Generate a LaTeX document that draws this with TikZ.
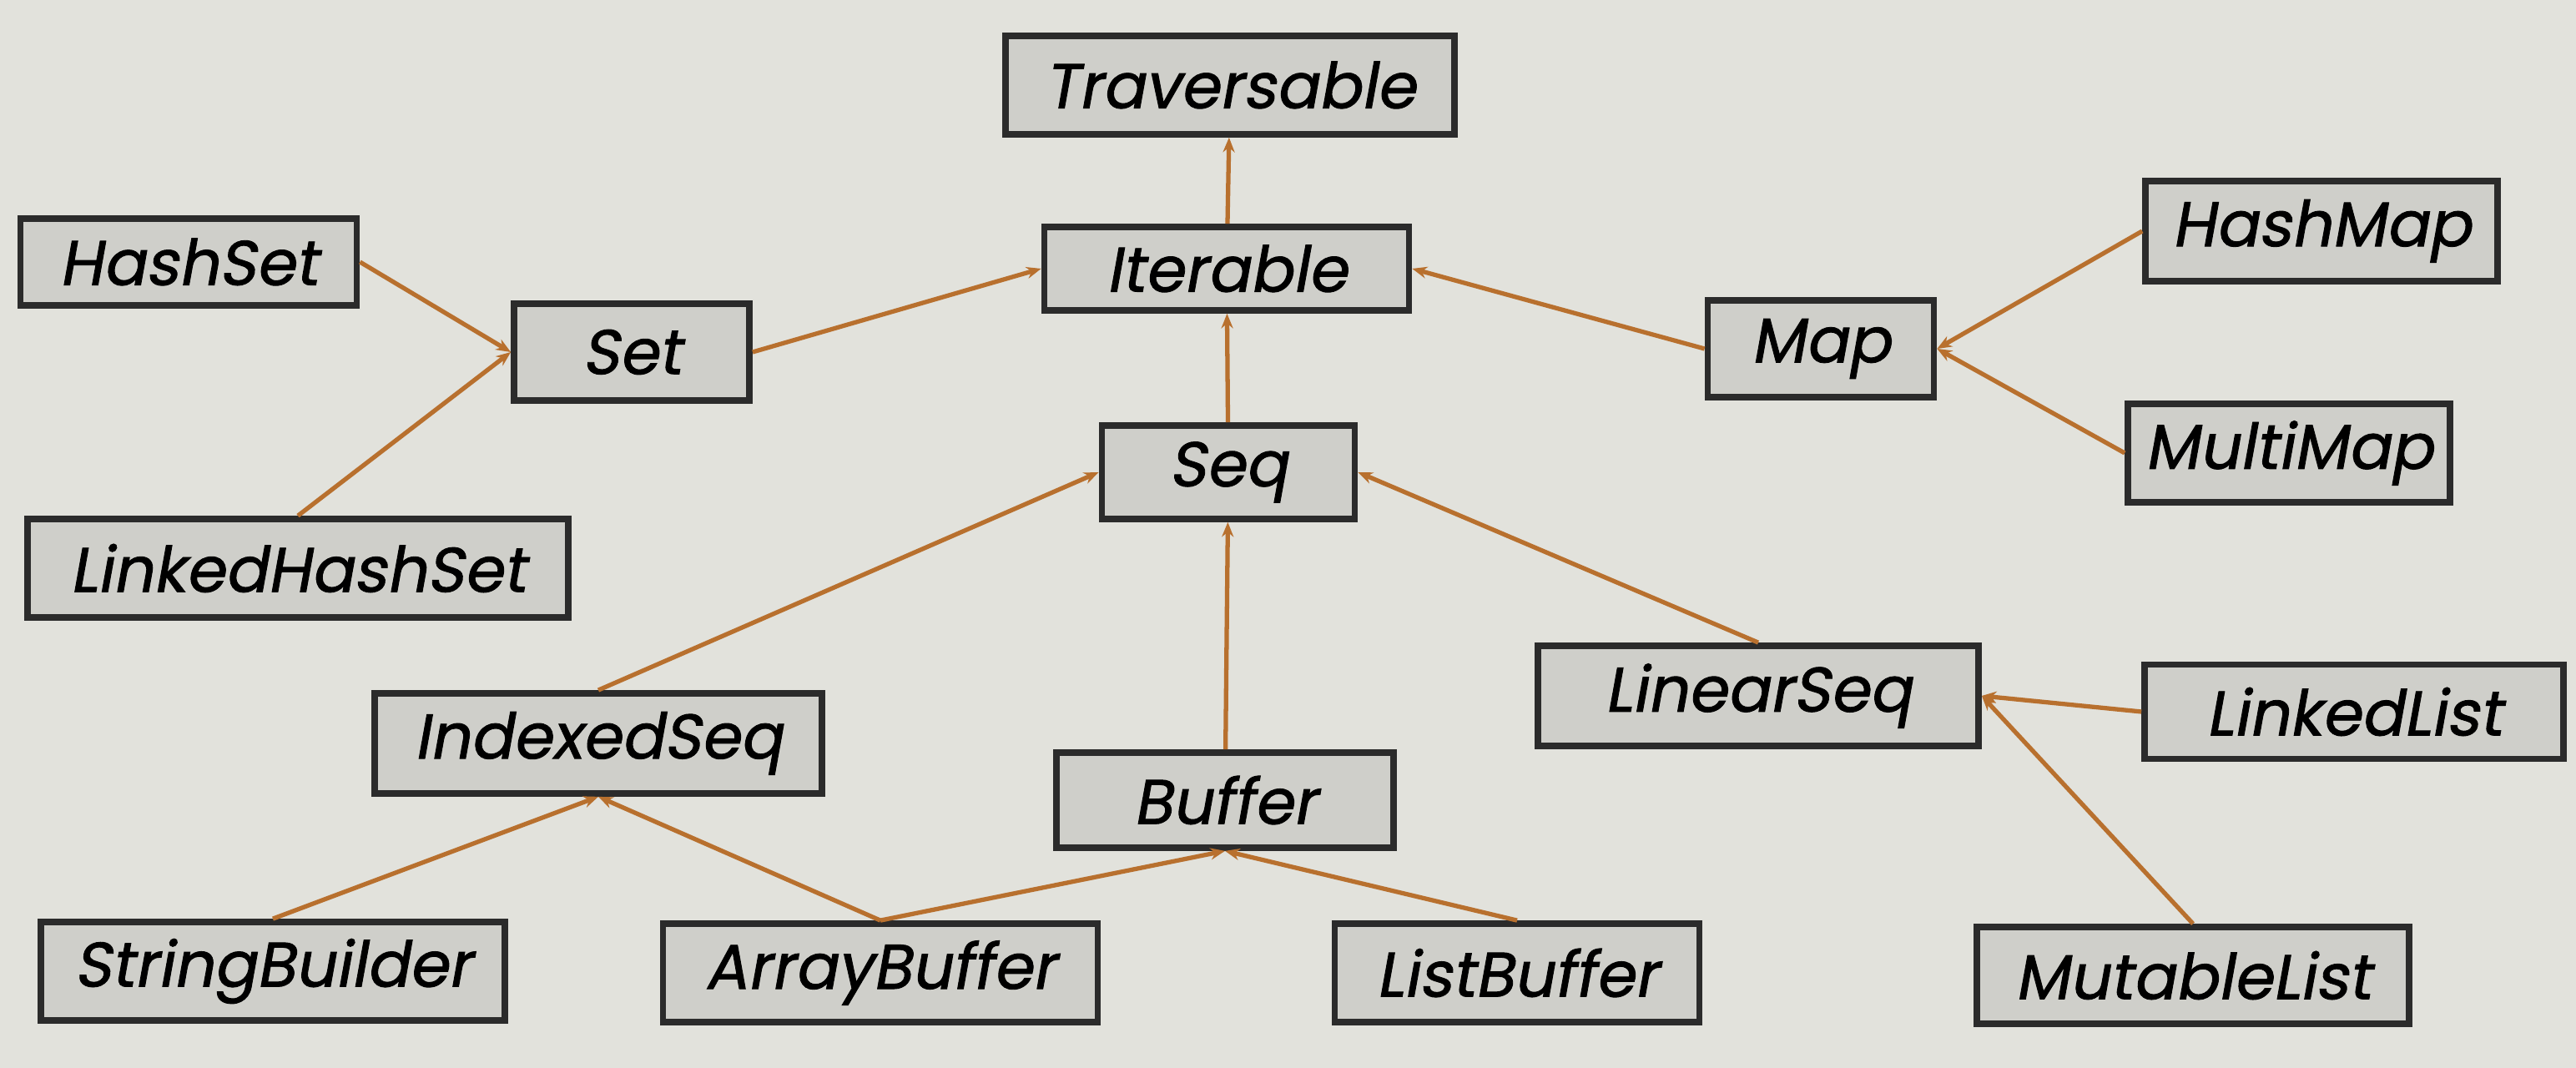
\documentclass[tikz,border=0pt]{standalone}
\usepackage{fontspec}
\newfontfamily\clsfont{Poppins}[FakeSlant=0.18, FakeBold=1.2]
\usetikzlibrary{arrows.meta}
\definecolor{screen}{HTML}{E2E2DC}
\definecolor{boxfill}{HTML}{CFCFCA}
\definecolor{boxline}{HTML}{2B2B2B}
\definecolor{link}{HTML}{B8702E}
\begin{document}
\begin{tikzpicture}[
    cls/.style={draw=boxline, fill=boxfill, line width=2.2pt, inner sep=0pt,
      font=\clsfont\fontsize{21.5}{24}\selectfont, text=black},
    inh/.style={draw=link, line width=1.5pt, -{Stealth[length=5pt,width=4pt]}}
  ]
    \fill[screen] (0,0) rectangle (30.87,12.80);
    \useasboundingbox (0,0) rectangle (30.87,12.80);

    % top of the hierarchy
    \node [cls, minimum width=5.38cm, minimum height=1.18cm] (trav) at (14.74,11.78) {Traversable};
    \node [cls, minimum width=4.37cm, minimum height=1.00cm] (iter) at (14.70,9.58) {Iterable};

    % sets
    \node [cls, minimum width=2.82cm, minimum height=1.16cm] (set) at (7.57,8.58) {Set};
    \node [cls, minimum width=4.03cm, minimum height=1.04cm] (hset) at (2.26,9.66) {HashSet};
    \node [cls, minimum width=6.48cm, minimum height=1.18cm] (lhset) at (3.57,5.99) {LinkedHashSet};

    % maps
    \node [cls, minimum width=2.71cm, minimum height=1.16cm] (map) at (21.82,8.62) {Map};
    \node [cls, minimum width=4.22cm, minimum height=1.20cm] (hmap) at (27.82,10.03) {HashMap};
    \node [cls, minimum width=3.86cm, minimum height=1.18cm] (mmap) at (27.43,7.37) {MultiMap};

    % sequences
    \node [cls, minimum width=3.03cm, minimum height=1.12cm] (seq) at (14.72,7.14) {Seq};
    \node [cls, minimum width=5.36cm, minimum height=1.20cm] (iseq) at (7.17,3.89) {IndexedSeq};
    \node [cls, minimum width=4.04cm, minimum height=1.14cm] (buf) at (14.68,3.21) {Buffer};
    \node [cls, minimum width=5.28cm, minimum height=1.20cm] (lseq) at (21.07,4.46) {LinearSeq};
    \node [cls, minimum width=5.02cm, minimum height=1.13cm] (llist) at (28.21,4.27) {LinkedList};

    % concrete classes
    \node [cls, minimum width=5.56cm, minimum height=1.18cm] (sb) at (3.27,1.16) {StringBuilder};
    \node [cls, minimum width=5.21cm, minimum height=1.18cm] (abuf) at (10.55,1.14) {ArrayBuffer};
    \node [cls, minimum width=4.37cm, minimum height=1.18cm] (lbuf) at (18.18,1.14) {ListBuffer};
    \node [cls, minimum width=5.18cm, minimum height=1.16cm] (mlist) at (26.28,1.11) {MutableList};

    \draw [inh] (iter) -- (trav);
    \draw [inh] (set.east) -- (iter.west);
    \draw [inh] (map.west) -- (iter.east);
    \draw [inh] (seq) -- (iter);
    \draw [inh] (hset.east) -- (set.west);
    \draw [inh] (lhset.north) -- (set.west);
    \draw [inh] (hmap.west) -- (map.east);
    \draw [inh] (mmap.west) -- (map.east);
    \draw [inh] (iseq.north) -- (seq.west);
    \draw [inh] (buf) -- (seq);
    \draw [inh] (lseq.north) -- (seq.east);
    \draw [inh] (llist.west) -- (lseq.east);
    \draw [inh] (mlist.north) -- (lseq.east);
    \draw [inh] (sb.north) -- (iseq.south);
    \draw [inh] (abuf.north) -- (iseq.south);
    \draw [inh] (abuf.north) -- (buf.south);
    \draw [inh] (lbuf.north) -- (buf.south);
\end{tikzpicture}
\end{document}
